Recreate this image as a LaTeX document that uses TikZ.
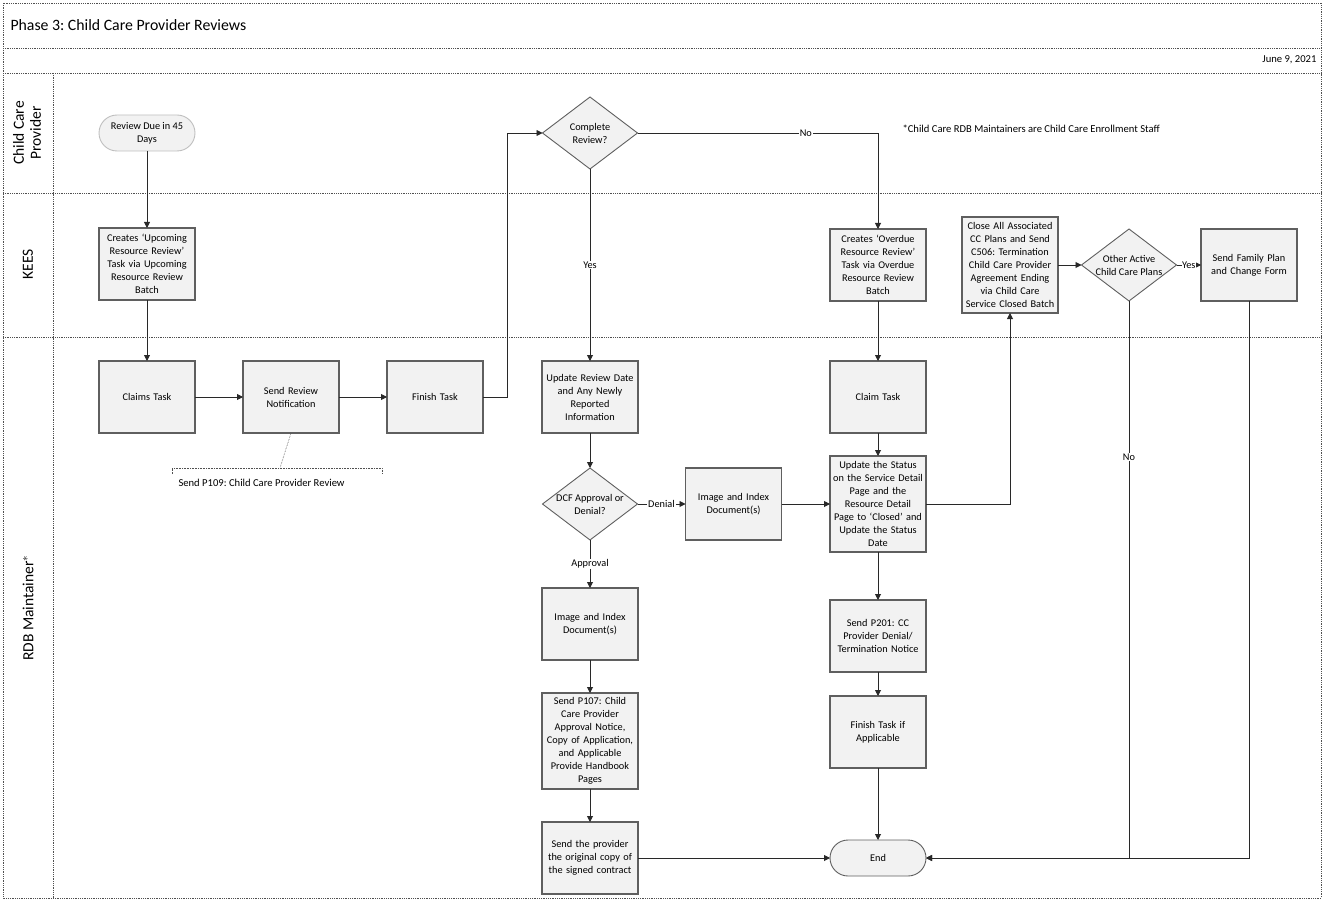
\documentclass[tikz,border=0pt]{standalone}
\usepackage{fontspec}
\setmainfont{Carlito}
\usepackage{tikz}
\usetikzlibrary{
  shapes.geometric,
  arrows.meta,
  positioning,
  calc
}
\definecolor{boxfill}{RGB}{242, 242, 242}
\definecolor{boxline}{RGB}{95, 95, 95}
\definecolor{laneline}{RGB}{80, 80, 80}
\definecolor{flowline}{RGB}{40, 40, 40}
\newcommand{\boxfont}{\fontsize{10.3}{13}\selectfont}
\frenchspacing
\tikzset{
  taskbox/.style = {
    rectangle, draw=boxline, line width=1.1pt,
    fill=boxfill, text width=#1, minimum width=96pt, minimum height=72pt,
    align=center, inner sep=1pt, outer sep=0pt, font=\boxfont
  },
  taskbox/.default = 94pt,
  decision/.style = {
    diamond, draw=boxline, line width=0.9pt,
    fill=boxfill, minimum width=95pt, minimum height=72pt,
    inner sep=0pt, outer sep=0pt,
    label={[font=\boxfont, align=center]center:#1}
  },
  termbox/.style = {
    rectangle, rounded corners=18pt, draw=#1, line width=0.9pt,
    fill=boxfill, minimum width=96pt, minimum height=36pt,
    align=center, inner sep=2pt, outer sep=0pt, font=\boxfont
  },
  termbox/.default = boxline,
  lanelabel/.style = {rotate=90, align=center, font=\fontsize{15.5}{17}\selectfont},
  lane/.style = {draw=laneline, densely dotted, line width=0.8pt},
  arr/.style  = {-{Triangle[length=6pt, width=6pt]}, draw=flowline, line width=0.9pt},
  lbl/.style  = {font=\boxfont, fill=white, inner sep=1pt},
}

\begin{document}
\begin{tikzpicture}[x=1pt, y=-1pt]

  \useasboundingbox (0,0) rectangle (1325,901);

  %% Swimlane frame
  \draw[lane] (3,3) rectangle (1321,898);
  \draw[lane] (3,48) -- (1321,48);
  \draw[lane] (3,73) -- (1321,73);
  \draw[lane] (3,193) -- (1321,193);
  \draw[lane] (3,337) -- (1321,337);
  \draw[lane] (53,73) -- (53,898);

  \node[anchor=west, font=\fontsize{15.8}{18}\selectfont] (title) at (7,25)
    {Phase 3: Child Care Provider Reviews};
  \node[anchor=east, font=\fontsize{10.6}{12}\selectfont] (date) at (1320,60)
    {June 9, 2021};
  \node[anchor=west, font=\fontsize{10.6}{12}\selectfont] (note) at (899,129)
    {*Child Care RDB Maintainers are Child Care Enrollment Staff};

  \node[lanelabel] (lanecp)   at (27,133) {Child Care\\Provider};
  \node[lanelabel] (lanekees) at (28,264) {KEES};
  \node[lanelabel] (lanerdb)  at (28,608) {RDB Maintainer$^{*}$};

  %% Child Care Provider lane
  \node[termbox=gray!50] (start) at (147,133) {Review Due in 45\\Days};
  \node[decision={Complete\\Review?}] (complete) at (590,133) {};

  %% KEES lane
  \node[taskbox] (upcoming) at (147,264)
    {Creates ‘Upcoming\\Resource Review’\\Task via Upcoming\\Resource Review\\Batch};
  \node[taskbox] (overdue) at (878,265)
    {Creates ‘Overdue\\Resource Review’\\Task via Overdue\\Resource Review\\Batch};
  \node[taskbox, minimum height=96pt] (closeall) at (1010,265)
    {Close All Associated\\CC Plans and Send\\C506: Termination\\Child Care Provider\\Agreement Ending\\via Child Care\\Service Closed Batch};
  \node[decision={Other Active\\Child Care Plans}] (otherplans) at (1129,265) {};
  \node[taskbox] (family) at (1249,265) {Send Family Plan\\and Change Form};

  %% RDB Maintainer lane, left part
  \node[taskbox] (claims) at (147,397) {Claims Task};
  \node[taskbox, right=48pt of claims]  (sendrev) {Send Review\\Notification};
  \node[taskbox, right=48pt of sendrev] (finish)  {Finish Task};
  \coordinate (annot) at (280,468);
  \node[anchor=west, font=\fontsize{10.6}{12}\selectfont] (p109) at (175,483)
    {Send P109: Child Care Provider Review};

  %% RDB Maintainer lane, approval column
  \node[taskbox] (update) at (590,397)
    {Update Review Date\\and Any Newly\\Reported\\Information};
  \node[decision={DCF Approval or\\Denial?}, below=35pt of update] (dcf) {};
  \node[taskbox, right=48pt of dcf]     (imgdeny) {Image and Index\\Document(s)};
  \node[taskbox, below=48pt of dcf]     (imgapp)  {Image and Index\\Document(s)};
  \node[taskbox, minimum height=96pt, below=33pt of imgapp] (p107)
    {Send P107: Child\\Care Provider\\Approval Notice,\\Copy of Application,\\and Applicable\\Provide Handbook\\Pages};
  \node[taskbox, below=33pt of p107] (sendprov)
    {Send the provider\\the original copy of\\the signed contract};

  %% RDB Maintainer lane, denial column
  \node[taskbox] (claim2) at (878,397) {Claim Task};
  \node[taskbox, minimum height=96pt, below=23pt of claim2] (status)
    {Update the Status\\on the Service Detail\\Page and the\\Resource Detail\\Page to ‘Closed’ and\\Update the Status\\Date};
  \node[taskbox, below=48pt of status] (p201)
    {Send P201: CC\\Provider Denial/\\Termination Notice};
  \node[taskbox, below=24pt of p201] (finish2) {Finish Task if\\Applicable};
  \node[termbox] (end) at (878,858) {End};

  %% Arrows
  \draw[arr] (start) -- (upcoming);
  \draw[arr] (upcoming) -- (claims);
  \draw[arr] (claims) -- (sendrev);
  \draw[arr] (sendrev) -- (finish);
  \draw[arr] (finish.east) -- ++(24,0) |- (complete.west);
  \draw[arr] (complete.east) -| (overdue.north)
    node[lbl, pos=0.35] {No};
  \draw[arr] (complete.south) -- (update.north)
    node[lbl, midway] {Yes};
  \draw[arr] (update) -- (dcf);
  \draw[arr] (dcf.east) -- (imgdeny.west)
    node[lbl, midway] {Denial};
  \draw[arr] (dcf.south) -- (imgapp.north)
    node[lbl, midway] {Approval};
  \draw[arr] (imgapp) -- (p107);
  \draw[arr] (p107) -- (sendprov);
  \draw[arr] (sendprov.east) -- (end.west);
  \draw[arr] (overdue) -- (claim2);
  \draw[arr] (claim2) -- (status);
  \draw[arr] (imgdeny.east) -- (status.west);
  \draw[arr] (status.east) -| (closeall.south);
  \draw[arr] (status) -- (p201);
  \draw[arr] (p201) -- (finish2);
  \draw[arr] (finish2) -- (end);
  \draw[arr] (closeall.east) -- (otherplans.west);
  \draw[arr] (otherplans.east) -- (family.west)
    node[lbl, midway, inner sep=0.3pt] {Yes};
  \draw[arr] (otherplans.south) |- (end.east)
    node[lbl, pos=0.14] {No};
  \draw[arr] (family.south) |- (end.east);

  %% Annotation
  \draw[lane, line width=0.6pt] (sendrev.south) -- (annot);
  \draw[lane, line width=0.6pt] (172,474) -- (172,468) -- (382,468) -- (382,474);

\end{tikzpicture}
\end{document}
